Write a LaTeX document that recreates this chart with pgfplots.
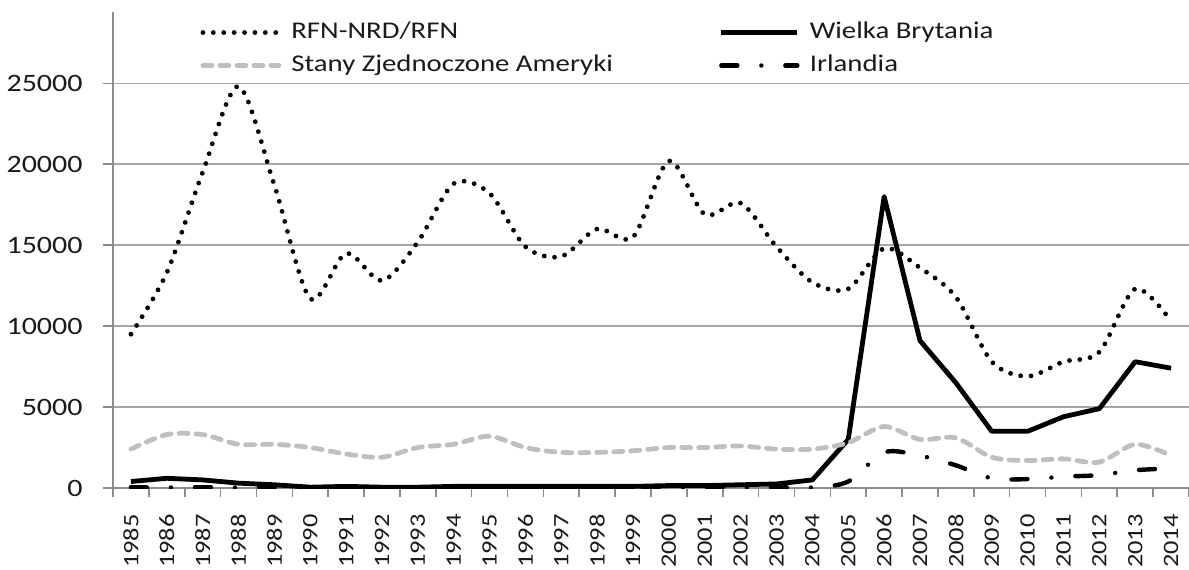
\documentclass[border=0pt]{standalone}
\usepackage{fontspec}
\setmainfont{Carlito}[FakeStretch=1.2]
\usepackage{pgfplots}
\usepackage{pgfplotstable}
\pgfplotsset{compat=1.18}
\definecolor{gridc}{HTML}{A6A6A6}
\definecolor{axc}{HTML}{8C8C8C}
\definecolor{usc}{HTML}{BFBFBF}
\definecolor{txt}{HTML}{1A1A1A}
\pgfplotstableread{
i year rfn uk us ie
0 1985 9500 400 2400 50
1 1986 13300 600 3300 30
2 1987 19500 500 3300 50
3 1988 24800 300 2700 30
4 1989 18700 200 2700 50
5 1990 11700 50 2500 20
6 1991 14500 100 2100 30
7 1992 12800 50 1900 20
8 1993 15200 50 2500 20
9 1994 18800 100 2700 30
10 1995 18200 100 3200 30
11 1996 14900 100 2500 30
12 1997 14300 100 2200 30
13 1998 16000 100 2200 30
14 1999 15500 100 2300 30
15 2000 20200 150 2500 50
16 2001 16900 150 2500 50
17 2002 17600 200 2600 50
18 2003 14900 250 2400 50
19 2004 12700 500 2400 30
20 2005 12300 3000 2800 400
21 2006 14800 18000 3800 2200
22 2007 13600 9100 3000 2000
23 2008 11800 6500 3100 1400
24 2009 7800 3500 1900 600
25 2010 6900 3500 1700 550
26 2011 7800 4400 1800 700
27 2012 8400 4900 1600 800
28 2013 12300 7800 2700 1100
29 2014 10300 7400 2000 1200
}\data
\begin{document}
\begin{tikzpicture}
\useasboundingbox (-56.5pt,-40.5pt) rectangle (538pt,244pt);
\begin{axis}[
  at={(0,0)}, anchor=south west,
  scale only axis, width=538pt, height=238pt,
  xmin=-0.5, xmax=29.5, ymin=0, ymax=29400,
  axis lines=left,
  axis line style={-, draw=axc, line width=0.9pt},
  xtick={0,...,29},
  xticklabels={1985,1986,1987,1988,1989,1990,1991,1992,1993,1994,1995,1996,1997,1998,1999,2000,2001,2002,2003,2004,2005,2006,2007,2008,2009,2010,2011,2012,2013,2014},
  major x tick style={draw=none},
  minor xtick={-0.5,0.5,...,29.5},
  minor tick length=4.5pt,
  minor x tick style={draw=axc, line width=0.8pt},
  tick align=outside,
  ytick={0,5000,10000,15000,20000,25000},
  scaled y ticks=false,
  major tick length=5pt,
  y tick style={draw=axc, line width=0.7pt},
  ymajorgrids,
  grid style={draw=gridc, line width=0.7pt},
  /pgf/number format/assume math mode=true,
  /pgf/number format/1000 sep={},
  yticklabel style={font=\fontsize{12.5}{14}\selectfont, text=txt, anchor=east, inner sep=0pt, xshift=-10pt},
  xticklabel style={font=\fontsize{11}{13}\selectfont, text=txt, rotate=90, anchor=east, inner sep=0pt},
  xticklabel shift=8pt,
  legend columns=2,
  legend cell align=left,
  legend style={draw=none, fill=none, at={(0.081,0.985)}, anchor=north west, inner sep=0pt,
    font=\fontsize{12}{14}\selectfont, text=txt,
    nodes={inner sep=1pt, text height=8.5pt, text depth=2.5pt},
    row sep=3.5pt,
    /tikz/every odd column/.append style={column sep=4pt},
    /tikz/every even column/.append style={column sep=52pt}},
  legend image code/.code={\draw[#1] (0pt,0pt) -- (38pt,0pt);},
]
\addplot[black, line width=2.4pt, line cap=round, dash pattern=on 0pt off 5.2pt, smooth] table[x=i,y=rfn]{\data};
\addlegendentry{RFN-NRD/RFN}
\addplot[black, line width=2.4pt, line join=round] table[x=i,y=uk]{\data};
\addlegendentry{Wielka Brytania}
\addplot[usc, line width=2.4pt, line cap=round, dash pattern=on 4.5pt off 4pt, smooth] table[x=i,y=us]{\data};
\addlegendentry{Stany Zjednoczone Ameryki}
\addplot[black, line width=2.2pt, line cap=round, dash pattern=on 8pt off 12pt on 0pt off 12pt, smooth] table[x=i,y=ie]{\data};
\addlegendentry{Irlandia}
\end{axis}
\end{tikzpicture}
\end{document}
